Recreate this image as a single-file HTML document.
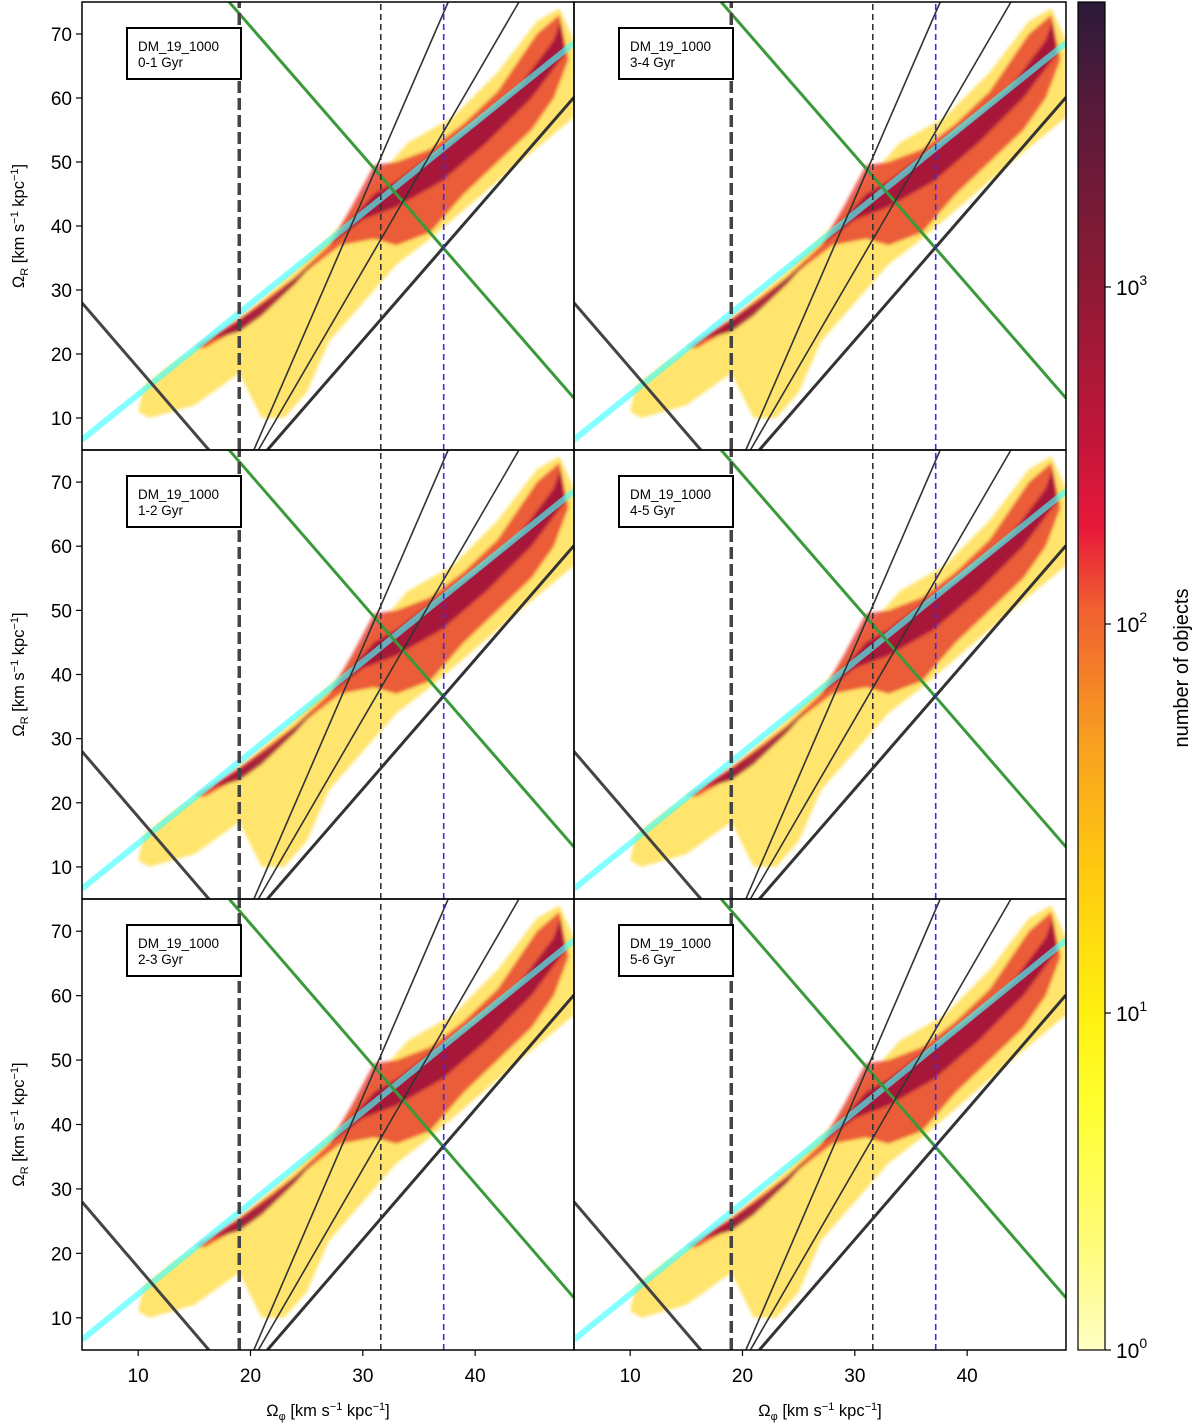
<!DOCTYPE html>
<html><head><meta charset="utf-8">
<style>
html,body{margin:0;padding:0;background:#fff;}
svg{display:block;font-family:"Liberation Sans",sans-serif;}
</style></head>
<body>
<svg id="chart" width="1200" height="1423" viewBox="0 0 1200 1423" xmlns="http://www.w3.org/2000/svg">
<defs>
<linearGradient id="cbar" x1="0" y1="1" x2="0" y2="0">
<stop offset="0" stop-color="#ffffc4"/>
<stop offset="0.07" stop-color="#fffb80"/>
<stop offset="0.18" stop-color="#ffff30"/>
<stop offset="0.25" stop-color="#fff010"/>
<stop offset="0.36" stop-color="#ffc810"/>
<stop offset="0.45" stop-color="#f8a020"/>
<stop offset="0.55" stop-color="#f06030"/>
<stop offset="0.61" stop-color="#e8183a"/>
<stop offset="0.68" stop-color="#c0163a"/>
<stop offset="0.8" stop-color="#8a1a35"/>
<stop offset="0.92" stop-color="#5a1a3a"/>
<stop offset="1" stop-color="#2a1a3a"/>
</linearGradient>
<filter id="blur" x="-5%" y="-5%" width="110%" height="110%"><feGaussianBlur stdDeviation="1.5"/></filter>
</defs>
<g id="panels"></g>
<g id="cb"></g>
</svg>
<script>
// ---- data ----
const xDomain = [5, 48.8];
const yDomain = [5, 75];
const xTicks = [10, 20, 30, 40];
const yTicks = [10, 20, 30, 40, 50, 60, 70];
const panelLabels = ["0-1 Gyr", "3-4 Gyr", "1-2 Gyr", "4-5 Gyr", "2-3 Gyr", "5-6 Gyr"];
const cyanLine = [[5, 6.6], [48.8, 68.6]];
const lowerLeftLine = [[5, 28], [16.3, 5]];
const greenLine = [[18.1, 75], [48.8, 13.1]];
const blackLines = [[[20.3, 5], [37.6, 75]], [[20.7, 5], [43.9, 75]], [[21.5, 5], [48.8, 60.1]]];
const vThick = 19.0, vDash = 31.6, vBlue = 37.2;
// density regions (data coords)
const yellowRegion = [[10,11],[10.5,15],[13,18.5],[17,23],[20,27],[24,33],[28,40],[31,47],[34,53],[38,57],[42,64],[45.5,72],[47.5,74],[48.8,69],[48.8,57],[44,50],[40,44],[36,38],[33,34],[31,30],[29,26],[27,22],[25,14],[23,10],[21,10],[19,17],[15,12],[11,10]];
const redRegion = [[15,21],[19,25.5],[24,32],[27,37],[29,43],[31,49.5],[33,50],[36,52],[39,56],[42,61],[45.5,70],[47.5,73],[48.3,66],[47,60],[45,55],[42,50],[39,45],[36,39],[33,37],[31,38],[28,37],[25,33],[22,29],[19,24],[16,21]];
const darkRegion = [[16.5,22.3],[19,25.3],[22,29],[26,35],[29,41],[31,45],[33,47],[36,51],[40,56],[44,62],[47,69],[47.6,72],[48,67],[45,60],[41,53],[37,47],[33,43],[30,41],[27,37],[24,31],[21,26],[19,23.5]];
const cbarTickVals = ["0", "1", "2", "3"];
const cbarTickY = [1350, 1013, 624, 287];

// ---- layout ----
const cols = [[82, 574], [574, 1066]];
const rows = [[2, 450], [450, 899], [899, 1350]];
const NS = "http://www.w3.org/2000/svg";
function mk(tag, attrs, parent) { const e = document.createElementNS(NS, tag); for (const k in attrs) e.setAttribute(k, attrs[k]); if (parent) parent.appendChild(e); return e; }
const root = document.getElementById('panels');

for (let r = 0; r < 3; r++) for (let c = 0; c < 2; c++) {
  const [x0, x1] = cols[c], [y0, y1] = rows[r];
  const sx = v => x0 + (v - xDomain[0]) / (xDomain[1] - xDomain[0]) * (x1 - x0);
  const sy = v => y1 - (v - yDomain[0]) / (yDomain[1] - yDomain[0]) * (y1 - y0);
  const pts = arr => arr.map(p => sx(p[0]).toFixed(1) + ',' + sy(p[1]).toFixed(1)).join(' ');
  const g = mk('g', {}, root);
  
  
  const cid = 'clip' + r + c;
  const cp = mk('clipPath', { id: cid }, g);
  mk('rect', { x: x0, y: y0, width: x1 - x0, height: y1 - y0 }, cp);
  const inner = mk('g', { 'clip-path': 'url(#' + cid + ')' }, g);
  const heat = mk('g', { filter: 'url(#blur)' }, inner);
  
  
  mk('polygon', { points: pts(yellowRegion), fill: '#ffd830', opacity: 0.7 }, heat);
  mk('polygon', { points: pts(redRegion), fill: '#e63a2a', opacity: 0.8 }, heat);
  mk('polygon', { points: pts(darkRegion), fill: '#a0143a', opacity: 0.9 }, heat);
  const line = (a, stroke, w, dash, name, op) => {
    const l = mk('line', { x1: sx(a[0][0]), y1: sy(a[0][1]), x2: sx(a[1][0]), y2: sy(a[1][1]), stroke: stroke, 'stroke-width': w, opacity: op || 1 }, inner);
    if (dash) l.setAttribute('stroke-dasharray', dash);
    
    
  };
  line(cyanLine, '#4ff', 6, null, 'resonance-line-cyan', 0.65);
  line(lowerLeftLine, '#444', 3, null, 'lower-left-line');
  line(greenLine, '#3a9a3a', 3, null, 'green-line');
  blackLines.forEach((bl, i) => line(bl, '#333', i === 2 ? 3 : 1.6, null, 'black-line-' + (i + 1)));
  line([[vThick, 5], [vThick, 75]], '#444', 3.5, '12,5', 'vline-thick-dashed');
  line([[vDash, 5], [vDash, 75]], '#333', 1.6, '6,4', 'vline-dashed');
  line([[vBlue, 5], [vBlue, 75]], '#3030ee', 1.6, '6,4', 'vline-blue-dashed');
  // legend
  const lg = mk('g', {}, g);
  
  
  mk('rect', { x: x0 + 45, y: y0 + 26, width: 114, height: 51, fill: '#fff', stroke: '#000', 'stroke-width': 2 }, lg);
  const t1 = mk('text', { x: x0 + 56, y: y0 + 49, 'font-size': 13.5, fill: '#000' }, lg); t1.textContent = 'DM_19_1000';
  const t2 = mk('text', { x: x0 + 56, y: y0 + 65, 'font-size': 13.5, fill: '#000' }, lg); t2.textContent = panelLabels[r * 2 + c];
  // frame
  const fr = mk('rect', { x: x0, y: y0, width: x1 - x0, height: y1 - y0, fill: 'none', stroke: '#000', 'stroke-width': 1.5 }, g);
  
  
  if (c === 0) {
    yTicks.forEach(v => {
      mk('line', { x1: x0 - 6, x2: x0, y1: sy(v), y2: sy(v), stroke: '#000', 'stroke-width': 1.2 }, g);
      const t = mk('text', { x: x0 - 10, y: sy(v) + 7, 'font-size': 19, 'text-anchor': 'end' }, g);
      
      
      t.textContent = v;
    });
    const yl = mk('text', { x: 0, y: 0, 'font-size': 16.5, 'text-anchor': 'middle', transform: 'translate(24,' + ((y0 + y1) / 2) + ') rotate(-90)' }, g);
    
    
    yl.innerHTML = 'Ω<tspan font-size="11" dy="4">R</tspan><tspan dy="-4"> [km s</tspan><tspan font-size="11" dy="-6">−1</tspan><tspan dy="6"> kpc</tspan><tspan font-size="11" dy="-6">−1</tspan><tspan dy="6">]</tspan>';
  }
  if (r === 2) {
    xTicks.forEach(v => {
      mk('line', { x1: sx(v), x2: sx(v), y1: y1, y2: y1 + 6, stroke: '#000', 'stroke-width': 1.2 }, g);
      const t = mk('text', { x: sx(v), y: y1 + 32, 'font-size': 19, 'text-anchor': 'middle' }, g);
      
      
      t.textContent = v;
    });
    const xl = mk('text', { x: (x0 + x1) / 2, y: 1416, 'font-size': 16.5, 'text-anchor': 'middle' }, g);
    
    
    xl.innerHTML = 'Ω<tspan font-size="11" dy="4">φ</tspan><tspan dy="-4"> [km s</tspan><tspan font-size="11" dy="-6">−1</tspan><tspan dy="6"> kpc</tspan><tspan font-size="11" dy="-6">−1</tspan><tspan dy="6">]</tspan>';
  }
}
// colorbar
const cb = document.getElementById('cb');
const bar = mk('rect', { x: 1078, y: 2, width: 27, height: 1348, fill: 'url(#cbar)', stroke: '#000', 'stroke-width': 1.2 }, cb);


cbarTickVals.forEach((v, i) => {
  mk('line', { x1: 1105, x2: 1111, y1: cbarTickY[i], y2: cbarTickY[i], stroke: '#000', 'stroke-width': 1.2 }, cb);
  const t = mk('text', { x: 1116, y: cbarTickY[i] + 8, 'font-size': 21 }, cb);
  
  
  t.innerHTML = '10<tspan font-size="14" dy="-10">' + v + '</tspan>';
});
const ct = mk('text', { x: 0, y: 0, 'font-size': 20, 'text-anchor': 'middle', transform: 'translate(1188,668) rotate(-90)' }, cb);


ct.textContent = 'number of objects';
</script>
</body></html>
